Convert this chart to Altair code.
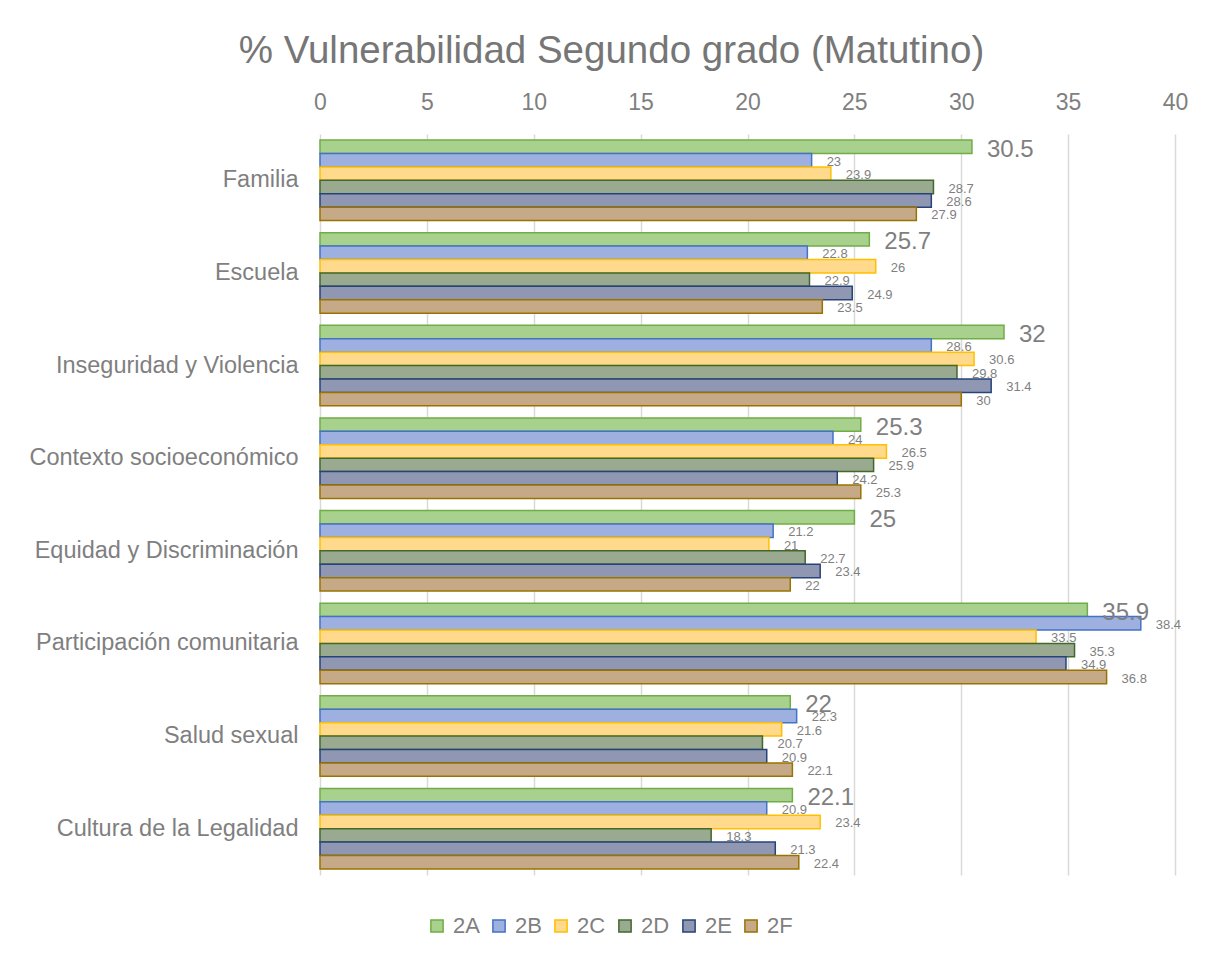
import altair as alt
import pandas as pd

categories = [
    "Familia",
    "Escuela",
    "Inseguridad y Violencia",
    "Contexto socioeconómico",
    "Equidad y Discriminación",
    "Participación comunitaria",
    "Salud sexual",
    "Cultura de la Legalidad",
]
series = ["2A", "2B", "2C", "2D", "2E", "2F"]

v_2A = [30.5, 25.7, 32, 25.3, 25, 35.9, 22, 22.1]
v_2B = [23, 22.8, 28.6, 24, 21.2, 38.4, 22.3, 20.9]
v_2C = [23.9, 26, 30.6, 26.5, 21, 33.5, 21.6, 23.4]
v_2D = [28.7, 22.9, 29.8, 25.9, 22.7, 35.3, 20.7, 18.3]
v_2E = [28.6, 24.9, 31.4, 24.2, 23.4, 34.9, 20.9, 21.3]
v_2F = [27.9, 23.5, 30, 25.3, 22, 36.8, 22.1, 22.4]

fills = ["#A9D18E", "#9DB0E0", "#FFD98C", "#9AAA90", "#8F97B3", "#C6AA88"]
strokes = ["#70AD47", "#4472C4", "#FFC000", "#43682B", "#264478", "#997300"]

values = {"2A": v_2A, "2B": v_2B, "2C": v_2C, "2D": v_2D, "2E": v_2E, "2F": v_2F}
rows = []
for s in series:
    for c, v in zip(categories, values[s]):
        rows.append({"Categoria": c, "Grupo": s, "Valor": v, "Etiqueta": f"{v:g}"})
df = pd.DataFrame(rows)

FONT = "Liberation Sans, Arial, sans-serif"
GRAY = "#7f7f7f"

y = alt.Y(
    "Categoria:N",
    sort=categories,
    scale=alt.Scale(paddingInner=0.13, paddingOuter=0.065),
    axis=alt.Axis(
        title=None, ticks=False, domain=False, labelFontSize=23.5,
        labelColor=GRAY, labelPadding=22, labelLimit=400, labelFont=FONT,
    ),
)
yoff = alt.YOffset("Grupo:N", sort=series, scale=alt.Scale(domain=series))
x = alt.X(
    "Valor:Q",
    scale=alt.Scale(domain=[0, 40]),
    axis=alt.Axis(
        orient="top", values=list(range(0, 41, 5)), title=None, ticks=False,
        domain=False, labelFontSize=23, labelColor=GRAY, labelPadding=20,
        labelFlush=False, gridColor="#d9d9d9", gridWidth=1.5, labelFont=FONT,
    ),
)

leg = alt.Legend(
    title=None, orient="none", legendX=106, legendY=781, direction="horizontal",
    symbolType="square", symbolSize=150, symbolStrokeWidth=1.5, symbolOpacity=1,
    labelFontSize=22, labelColor=GRAY, labelFont=FONT, labelOffset=5,
    columnPadding=8,
)

base = alt.Chart(df)

bars = base.mark_bar(strokeWidth=1.5, opacity=1).encode(
    x=x, y=y, yOffset=yoff,
    color=alt.Color("Grupo:N", scale=alt.Scale(domain=series, range=fills), legend=leg),
    stroke=alt.Stroke("Grupo:N", scale=alt.Scale(domain=series, range=strokes), legend=leg),
)

big = base.transform_filter(alt.datum.Grupo == "2A").mark_text(
    align="left", baseline="alphabetic", dx=15, dy=10, fontSize=24, color=GRAY, font=FONT
).encode(x=x, y=y, yOffset=yoff, text="Etiqueta:N")

small = base.transform_filter(alt.datum.Grupo != "2A").mark_text(
    align="left", baseline="alphabetic", dx=15, dy=5.5, fontSize=13, color=GRAY, font=FONT
).encode(x=x, y=y, yOffset=yoff, text="Etiqueta:N")

chart = alt.layer(bars, big, small).properties(
    width=855,
    height=741,
    autosize="none",
    padding={"left": 312, "top": 126, "right": 20, "bottom": 65},
    title=alt.TitleParams(
        text="% Vulnerabilidad Segundo grado (Matutino)", fontSize=38.5, color="#767676",
        font=FONT, fontWeight="normal", anchor="middle", dx=-136, offset=-10,
        baseline="alphabetic",
    ),
).configure_view(stroke=None)

chart.save("out.html", embed_options={"renderer": "svg", "actions": False})
